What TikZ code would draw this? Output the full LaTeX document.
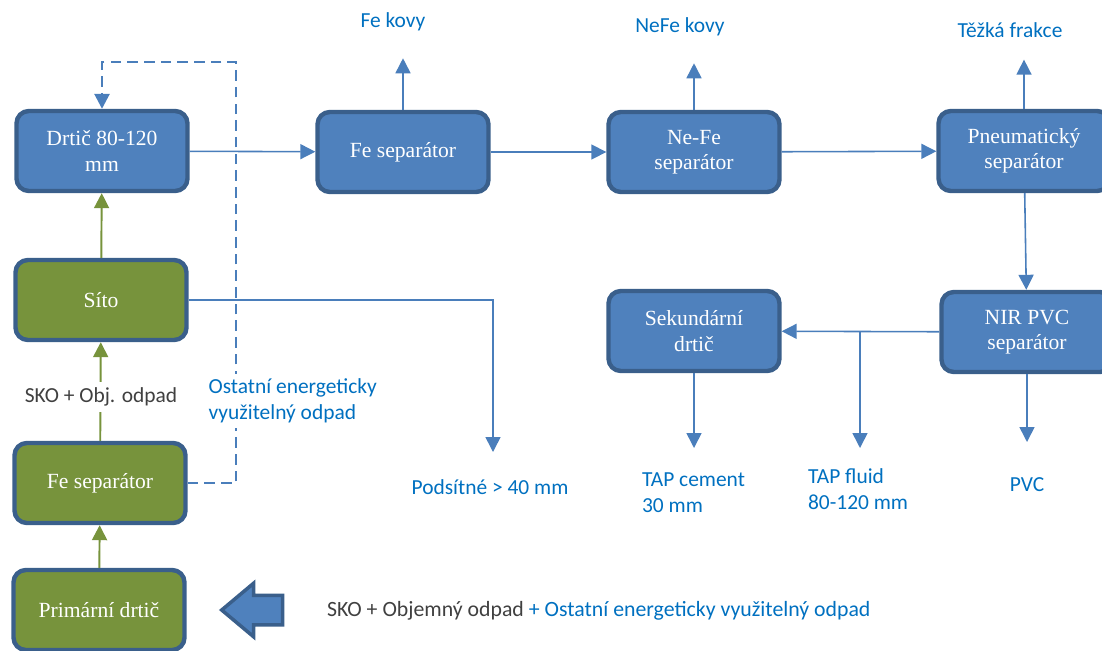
\documentclass[tikz,border=0pt]{standalone}
\usepackage{fontspec}
\setmainfont{Liberation Serif}
\newfontfamily\labfont{Carlito}
\usetikzlibrary{arrows.meta,shapes.arrows}
\definecolor{boxblue}{HTML}{4F81BD}
\definecolor{boxline}{HTML}{3A5F8B}
\definecolor{boxgreen}{HTML}{77933C}
\definecolor{lineblue}{HTML}{4A7EBB}
\definecolor{labelblue}{HTML}{0070C0}
\definecolor{labelgray}{HTML}{404040}
\begin{document}
\begin{tikzpicture}[x=0.02cm, y=-0.02cm,
        box/.style={rectangle, rounded corners=7pt, draw=boxline, line width=2.5pt, fill=boxblue,
            text=white, align=center, minimum width=3.42cm, minimum height=1.6cm, inner sep=2pt,
            font=\fontsize{12.3}{14.5}\selectfont},
        gbox/.style={box, fill=boxgreen},
        flow/.style={draw=lineblue, line width=0.9pt, -{Triangle[length=0.3cm, width=0.3cm]}},
        gflow/.style={draw=boxgreen, line width=1.1pt, -{Triangle[length=0.3cm, width=0.3cm]}},
        dashflow/.style={flow, line width=1.5pt, dash pattern=on 6pt off 3.5pt},
        lab/.style={align=left, inner sep=1pt, font=\labfont\fontsize{12.2}{14.8}\selectfont},
        bluelab/.style={lab, text=labelblue},
        graylab/.style={lab, text=labelgray}
    ]
    \useasboundingbox (0,0) rectangle (1102,650);
    % left column
    \node[box] (drtic) at (102,151) {Drtič 80-120\\mm};
    \node[gbox] (sito) at (101,300) {Síto};
    \node[gbox] (fegreen) at (100,483) {Fe separátor};
    \node[gbox] (primar) at (99,610) {Primární drtič};
    % top row
    \node[box] (feblue) at (403,152) {Fe separátor};
    \node[box] (nefe) at (694,152) {Ne-Fe\\separátor};
    \node[box] (pneu) at (1024,151) {Pneumatický\\separátor};
    % second row
    \node[box] (nir) at (1027,332) {NIR PVC\\separátor};
    \node[box] (sekund) at (694,331) {Sekundární\\drtič};
    % outputs
    \node[bluelab] (fekovy) at (393,22) {Fe kovy};
    \node[bluelab] (nefekovy) at (680,27) {NeFe kovy};
    \node[bluelab] (tezka) at (1010,30) {Těžká frakce};
    \node[bluelab] (podsitne) at (490,487) {Podsítné > 40 mm};
    \node[bluelab, anchor=west] (cement) at (640,493) {TAP cement\\30 mm};
    \node[bluelab, anchor=west] (fluid) at (806,489) {TAP fluid\\80-120 mm};
    \node[bluelab] (pvc) at (1027,485) {PVC};
    \coordinate (podsitneTip) at (493,452);
    \coordinate (fluidTip) at (860,448);
    % main flow
    \draw[flow] (drtic) -- (feblue);
    \draw[flow] (feblue) -- (nefe);
    \draw[flow] (nefe) -- (pneu);
    \draw[flow] (pneu) -- (nir);
    \draw[flow] (nir) -- (sekund);
    \draw[flow] (feblue.north) -- ([yshift=-0.5cm]fekovy.south -| feblue.north);
    \draw[flow] (nefe.north) -- ([yshift=-0.5cm]nefekovy.south -| nefe.north);
    \draw[flow] (pneu.north) -- ([yshift=-0.4cm]tezka.south -| pneu.north);
    \draw[flow] (sekund.south) -- (sekund.south |- fluidTip);
    \draw[flow] (nir.south) -- ([yshift=0.12cm]nir.south |- fluidTip);
    \draw[flow] (fluidTip |- nir.west) -- (fluidTip);
    \draw[flow] (sito.east) -| (podsitneTip);
    % green chain
    \draw[gflow] (primar) -- (fegreen);
    \draw[gflow] (fegreen) -- (sito);
    \draw[gflow] (sito) -- (drtic);
    \node[graylab, fill=white, inner sep=3pt] (skoobj) at (101,397) {SKO + Obj. odpad};
    % return loop
    \draw[dashflow] (fegreen.east) -| (236,62) -| (drtic.north);
    \node[bluelab, fill=white, anchor=west, inner sep=3pt] (ostatni) at (203,401) {Ostatní energeticky\\využitelný odpad};
    % input
    \node[single arrow, shape border rotate=180, draw=boxline, line width=2pt, fill=boxblue,
        minimum width=1cm, minimum height=1.22cm, single arrow head extend=0.24cm,
        single arrow tip angle=80, inner xsep=0pt, inner ysep=0.26cm] (vstup) at (261,610) {};
    \node[lab, anchor=west, font=\labfont\fontsize{12.4}{14.8}\selectfont] (vstuplab) at (325,611) {\textcolor{labelgray}{SKO + Objemný odpad} \textcolor{labelblue}{+ Ostatní energeticky využitelný odpad}};
\end{tikzpicture}
\end{document}
